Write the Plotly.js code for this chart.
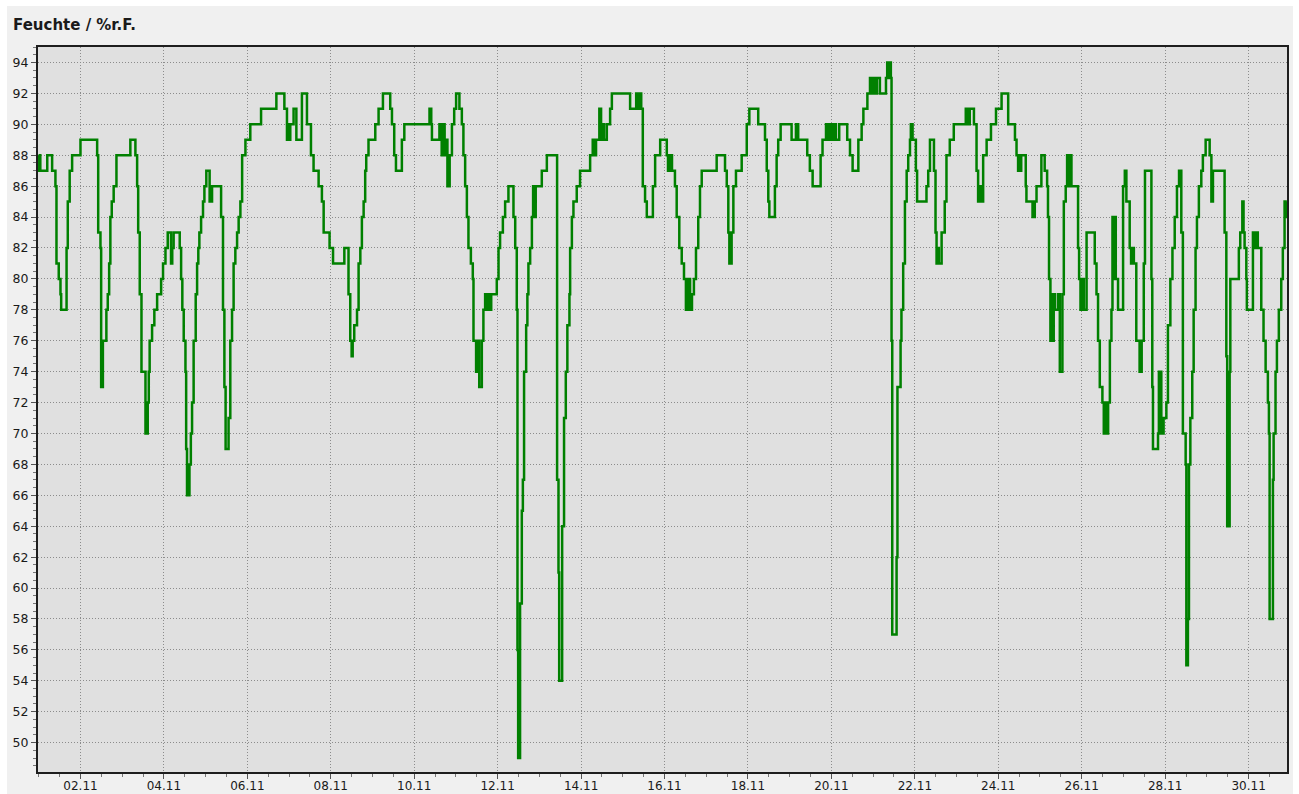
<!DOCTYPE html>
<html>
<head>
<meta charset="utf-8">
<script src="https://cdn.plot.ly/plotly-3.0.1.min.js"></script>
<style>
  html, body { margin: 0; padding: 0; background: #ffffff; width: 1299px; height: 794px; overflow: hidden; }
  #chart { position: absolute; left: 7px; top: 6px; width: 1286px; height: 788px; }
</style>
</head>
<body>
<div id="chart"></div>
<script>
// Start of the record (01.11, 00:00); x values are hours after this moment
const startDate = Date.UTC(2023, 10, 1, 0, 0, 0);

const hours = [
  0.0, 0.3, 0.6, 0.9, 4.9, 7.7, 9.6, 10.2, 11.5, 12.5, 12.9, 16.0, 16.7, 17.8, 19.2, 24.0,
  33.6, 34.2, 35.5, 35.9, 36.4, 36.6, 36.9, 38.9, 39.7, 40.5, 41.2, 42.0, 43.1, 44.7, 52.7,
  55.6, 56.6, 57.2, 58.1, 59.1, 61.4, 61.9, 62.2, 62.7, 63.3, 63.8, 65.2, 66.5, 68.1, 70.4,
  71.5, 72.9, 74.2, 76.1, 76.8, 77.6, 81.1, 81.9, 82.6, 83.4, 84.4, 84.8, 85.3, 86.7, 87.5,
  88.2, 89.1, 90.3, 91.1, 91.8, 92.4, 93.4, 94.5, 95.3, 96.4, 98.3, 99.7, 104.9, 106.0, 106.8,
  107.5, 109.2, 110.2, 111.2, 112.1, 113.1, 114.1, 115.0, 116.0, 117.0, 118.9, 121.7, 127.9,
  136.7, 141.3, 142.8, 143.6, 144.0, 144.7, 146.6, 148.2, 151.4, 154.3, 156.6, 158.1, 161.0,
  162.9, 163.9, 167.3, 169.3, 175.8, 178.2, 179.2, 180.0, 180.6, 181.5, 183.1, 184.0, 185.0,
  185.9, 186.9, 187.8, 188.4, 189.7, 193.6, 195.5, 198.0, 202.2, 203.2, 204.5, 205.5, 208.9,
  210.3, 224.8, 225.8, 226.2, 230.5, 231.8, 232.7, 233.5, 234.1, 235.1, 236.4, 237.7, 239.0,
  240.1, 242.0, 243.4, 244.3, 245.3, 246.3, 247.2, 248.6, 249.7, 250.1, 251.6, 252.8, 253.4,
  254.9, 255.8, 256.8, 257.9, 258.5, 259.7, 260.3, 263.5, 264.5, 265.4, 267.0, 268.3, 270.2,
  273.1, 274.1, 275.0, 275.4, 275.8, 276.9, 277.9, 278.5, 279.2, 280.4, 281.1, 281.7, 282.7,
  283.7, 284.4, 285.0, 285.9, 289.4, 292.3, 298.2, 299.0, 299.4, 301.1, 302.2, 303.2, 304.1,
  305.3, 305.7, 306.7, 307.6, 309.5, 311.4, 317.2, 318.7, 319.5, 320.6, 322.5, 323.5, 324.7,
  325.2, 326.8, 328.7, 329.7, 340.2, 343.7, 344.8, 345.4, 346.6, 347.5, 348.8, 349.8, 353.3,
  354.6, 357.5, 361.3, 362.0, 363.2, 364.3, 366.0, 367.0, 368.5, 369.9, 371.2, 372.3, 373.5,
  374.7, 375.8, 376.9, 378.1, 379.4, 380.4, 381.4, 390.0, 394.8, 395.8, 396.7, 397.3, 398.6,
  399.6, 401.1, 404.4, 407.3, 408.8, 413.9, 417.8, 418.8, 419.7, 420.3, 423.5, 424.5, 425.4,
  426.8, 433.1, 435.6, 436.9, 442.1, 443.6, 445.2, 449.8, 450.9, 452.9, 454.0, 455.1, 456.3,
  457.4, 458.6, 460.5, 465.1, 466.7, 468.2, 471.5, 473.4, 474.4, 476.7, 478.2, 479.0, 479.9,
  481.0, 482.2, 483.9, 487.4, 488.1, 489.1, 489.7, 490.2, 490.6, 491.0, 493.5, 494.0, 495.8,
  496.3, 497.3, 498.3, 499.3, 500.2, 501.2, 501.7, 502.7, 504.6, 505.3, 510.7, 511.7, 512.7,
  515.0, 515.9, 516.5, 517.3, 517.8, 519.4, 521.2, 522.2, 524.1, 526.4, 533.3, 534.5, 535.6,
  538.0, 539.5, 540.4, 541.4, 542.0, 543.3, 545.3, 547.8, 550.7, 553.9, 557.7, 561.6, 562.5,
  563.4, 564.1, 564.7, 565.2, 567.8, 568.2, 571.7, 573.0, 574.0, 576.8, 578.7, 580.1, 580.6,
  581.2, 582.0, 582.8, 583.4, 583.9, 584.5, 586.3, 587.4, 588.9, 589.7, 590.8, 591.6, 592.3,
  592.8, 594.1, 597.9, 598.5, 599.3, 600.3, 601.2, 602.8, 607.5, 608.5, 609.4, 610.4, 611.9,
  612.7, 613.8, 614.4, 615.2, 616.2, 617.1, 617.7, 618.4, 619.0, 619.6, 620.9, 623.8, 624.8,
  625.7, 627.6, 628.4, 629.2, 630.0, 631.4, 633.3, 634.5, 635.7, 636.4, 640.1, 640.6, 641.0,
  643.9, 644.4, 645.8, 647.1, 648.7, 649.6, 651.0, 652.2, 653.5, 654.8, 656.0, 657.3, 658.2,
  659.8, 660.2, 661.1, 661.7, 662.5, 663.6, 664.4, 665.5, 666.3, 667.4, 668.8, 669.7, 671.3,
  673.6, 674.6, 675.5, 682.2, 683.2, 683.7, 685.1, 685.5, 690.4, 691.2, 692.4, 693.1, 693.7,
  694.7, 695.0, 698.5, 699.5, 700.3, 701.3, 703.3, 704.6, 705.8, 707.1, 707.7, 708.1, 710.0,
  710.4, 711.5, 712.3, 713.4, 714.8, 715.7, 716.7, 717.3, 717.9
];

const humidity = [
  88, 87, 88, 87, 88, 87, 86, 81, 80, 79, 78, 82, 85, 87, 88, 89,
  88, 83, 82, 73, 75, 73, 76, 78, 79, 81, 84, 85, 86, 88, 89,
  88, 86, 83, 79, 74, 70, 72, 70, 72, 74, 76, 77, 78, 79, 80,
  81, 82, 83, 81, 82, 83, 82, 80, 78, 76, 74, 69, 66, 68, 70,
  72, 76, 79, 81, 82, 83, 84, 85, 86, 87, 85, 86, 84, 78, 73,
  69, 71, 76, 78, 81, 82, 83, 84, 85, 88, 89, 90, 91,
  92, 91, 89, 90, 89, 90, 91, 89, 92, 90, 88, 87, 86,
  85, 83, 82, 81, 82, 79, 76, 75, 76, 77, 78, 81, 82,
  84, 85, 87, 88, 89, 90, 91, 92, 91, 90, 88, 87, 89,
  90, 91, 90, 89, 90, 88, 90, 88, 89, 86, 88, 90, 91,
  92, 91, 90, 88, 86, 84, 82, 81, 80, 76, 74, 76, 73,
  76, 78, 79, 78, 79, 78, 79, 80, 82, 83, 84, 85, 86,
  84, 82, 78, 56, 49, 59, 65, 67, 74, 77, 79, 81, 82,
  84, 86, 84, 86, 87, 88, 67, 61, 54, 64, 71, 74, 77,
  79, 82, 84, 85, 86, 87, 88, 89, 88, 89, 91, 89, 90,
  89, 90, 91, 92, 91, 92, 91, 92, 91, 86, 85, 84, 86,
  88, 89, 88, 87, 88, 87, 86, 84, 82, 81, 80, 78, 80,
  78, 79, 80, 82, 84, 86, 87, 88, 87, 86, 83, 81, 83,
  86, 87, 88, 90, 91, 90, 89, 87, 85, 84, 86, 88, 89,
  90, 89, 90, 89, 88, 87, 86, 88, 89, 90, 89, 90, 89,
  90, 89, 90, 89, 88, 87, 89, 90, 91, 92, 93, 92, 93,
  92, 93, 92, 93, 94, 93, 94, 93, 76, 57, 62, 73, 76,
  78, 81, 85, 87, 88, 89, 90, 89, 87, 85, 86, 87, 89,
  87, 83, 81, 82, 81, 83, 85, 88, 89, 90, 91, 90, 91,
  90, 87, 85, 86, 85, 88, 89, 90, 91, 92, 90, 89, 88,
  87, 88, 87, 88, 86, 85, 84, 85, 86, 88, 87, 86, 84,
  80, 76, 79, 76, 79, 78, 79, 74, 79, 85, 86, 88, 86,
  88, 86, 82, 80, 78, 80, 78, 83, 81, 79, 76, 73, 72,
  70, 72, 70, 72, 76, 78, 84, 80, 84, 80, 78, 86, 87,
  85, 82, 81, 82, 81, 76, 74, 76, 81, 87, 80, 73, 69,
  70, 74, 70, 71, 72, 77, 80, 82, 84, 86, 87, 83, 70,
  68, 55, 58, 68, 71, 74, 78, 82, 84, 86, 87, 88, 89,
  88, 85, 87, 83, 75, 64, 74, 80, 82, 83, 85, 83, 82,
  80, 78, 83, 82, 83, 82, 78, 76, 74, 72, 70, 58, 67,
  70, 74, 76, 78, 80, 82, 85, 84, 85
];

const titleText = 'Feuchte / %r.F.';
const yTickStart = 50, yTickStep = 2;
const xTickStart = '2023-11-02';
const xTickFormat = '%d.%m';

const HOUR = 3600 * 1000;
const xs = hours.map(h => startDate + h * HOUR);

const fontFam = 'DejaVu Sans, Liberation Sans, sans-serif';
const axisColor = '#1e1e1e';
const gridCol = '#8c8c8c';

const trace = {
  type: 'scatter',
  mode: 'lines',
  x: xs,
  y: humidity,
  line: { color: '#008000', width: 2.5, shape: 'hv' },
  hoverinfo: 'skip'
};

const layout = {
  width: 1286,
  height: 788,
  margin: { l: 31, r: 6, t: 41, b: 22, pad: 0 },
  paper_bgcolor: '#f0f0f0',
  plot_bgcolor: '#e0e0e0',
  showlegend: false,
  title: {
    text: '<b>' + titleText + '</b>',
    xref: 'container', yref: 'container',
    x: 6 / 1286, xanchor: 'left',
    y: 1 - 19 / 788, yanchor: 'middle',
    font: { family: fontFam, size: 15, color: '#1a1a1a' }
  },
  xaxis: {
    type: 'date',
    range: [startDate - 0.43 * HOUR, startDate + 718.1 * HOUR],
    tick0: xTickStart,
    dtick: 2 * 24 * HOUR,
    tickformat: xTickFormat,
    ticks: 'outside', ticklen: 5, tickwidth: 1, tickcolor: '#555',
    ticklabelstandoff: -3,
    showgrid: true, gridcolor: gridCol, griddash: '1px,2px', gridwidth: 1,
    showline: true, linecolor: axisColor, linewidth: 2, mirror: true,
    zeroline: false,
    minor: { dtick: 12 * HOUR, ticks: 'outside', ticklen: 3, tickcolor: '#777', showgrid: false },
    tickfont: { family: fontFam, size: 12, color: '#1a1a1a' }
  },
  yaxis: {
    range: [48.1, 95.0],
    tick0: yTickStart,
    dtick: yTickStep,
    ticks: 'outside', ticklen: 5, tickwidth: 1, tickcolor: '#555',
    showgrid: true, gridcolor: gridCol, griddash: '1px,2px', gridwidth: 1,
    showline: true, linecolor: axisColor, linewidth: 2, mirror: true,
    zeroline: false,
    minor: { dtick: 0.5, ticks: 'outside', ticklen: 3, tickcolor: '#777', showgrid: false },
    tickfont: { family: fontFam, size: 12.5, color: '#1a1a1a' }
  }
};

Plotly.newPlot('chart', [trace], layout, { staticPlot: true, displayModeBar: false });
</script>
</body>
</html>
